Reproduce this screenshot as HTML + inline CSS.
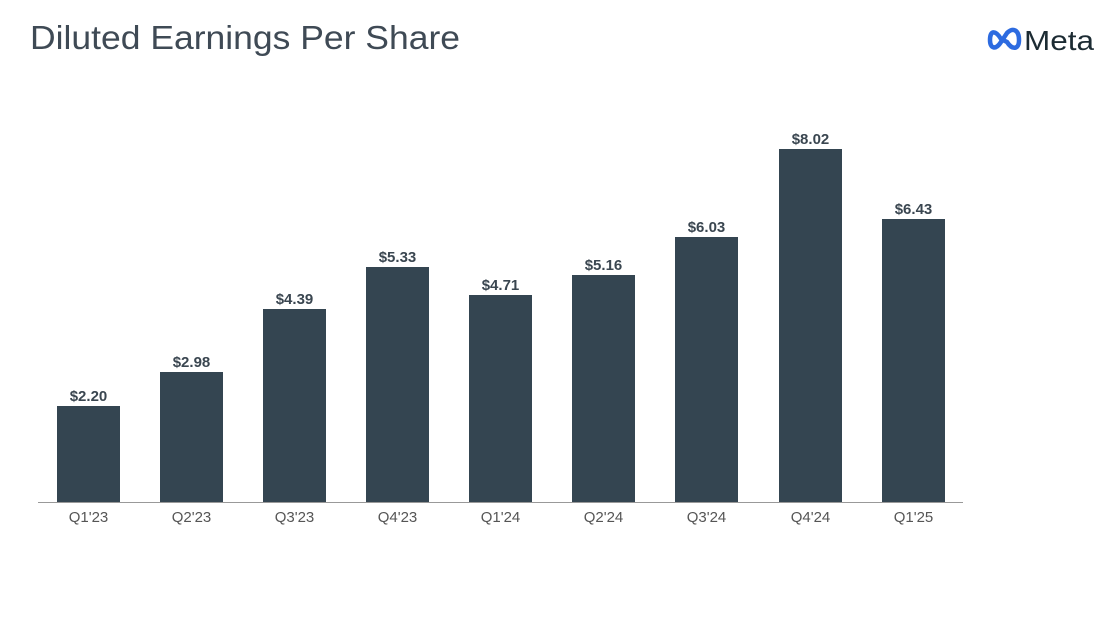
<!DOCTYPE html>
<html><head><style>
body{margin:0;background:#fff;width:1118px;height:614px;overflow:hidden;font-family:"Liberation Sans",sans-serif}
</style></head><body>
<svg width="1118" height="614" xmlns="http://www.w3.org/2000/svg" font-family="Liberation Sans, sans-serif">
<text x="30" y="49" font-size="33" fill="#3f4a55" textLength="430" lengthAdjust="spacingAndGlyphs">Diluted Earnings Per Share</text>
<path d="M1001 39 C995 29 990 31 990 40 C990 49 996 50 1001 42 L1007 33 C1013 27 1019 30 1019 40 C1019 50 1012 50 1007 42 Z" fill="none" stroke="#2d6be0" stroke-width="4.5"/>
<text x="1024" y="50" font-size="28" fill="#1c2b33" textLength="70" lengthAdjust="spacingAndGlyphs">Meta</text>
<line x1="38" y1="502.5" x2="963" y2="502.5" stroke="#999" stroke-width="1"/>
<g fill="#344551">
<rect x="57" y="406" width="63" height="96"/>
<rect x="160" y="372" width="63" height="130"/>
<rect x="263" y="309" width="63" height="193"/>
<rect x="366" y="267" width="63" height="235"/>
<rect x="469" y="295" width="63" height="207"/>
<rect x="572" y="275" width="63" height="227"/>
<rect x="675" y="237" width="63" height="265"/>
<rect x="779" y="149" width="63" height="353"/>
<rect x="882" y="219" width="63" height="283"/>
</g>
<g font-size="15" font-weight="bold" fill="#3a4650" text-anchor="middle">
<text x="88.5" y="401">$2.20</text>
<text x="191.5" y="367">$2.98</text>
<text x="294.5" y="304">$4.39</text>
<text x="397.5" y="262">$5.33</text>
<text x="500.5" y="290">$4.71</text>
<text x="603.5" y="270">$5.16</text>
<text x="706.5" y="232">$6.03</text>
<text x="810.5" y="144">$8.02</text>
<text x="913.5" y="214">$6.43</text>
</g>
<g font-size="15" fill="#555" text-anchor="middle">
<text x="88.5" y="522">Q1'23</text>
<text x="191.5" y="522">Q2'23</text>
<text x="294.5" y="522">Q3'23</text>
<text x="397.5" y="522">Q4'23</text>
<text x="500.5" y="522">Q1'24</text>
<text x="603.5" y="522">Q2'24</text>
<text x="706.5" y="522">Q3'24</text>
<text x="810.5" y="522">Q4'24</text>
<text x="913.5" y="522">Q1'25</text>
</g>
</svg>
</body></html>
